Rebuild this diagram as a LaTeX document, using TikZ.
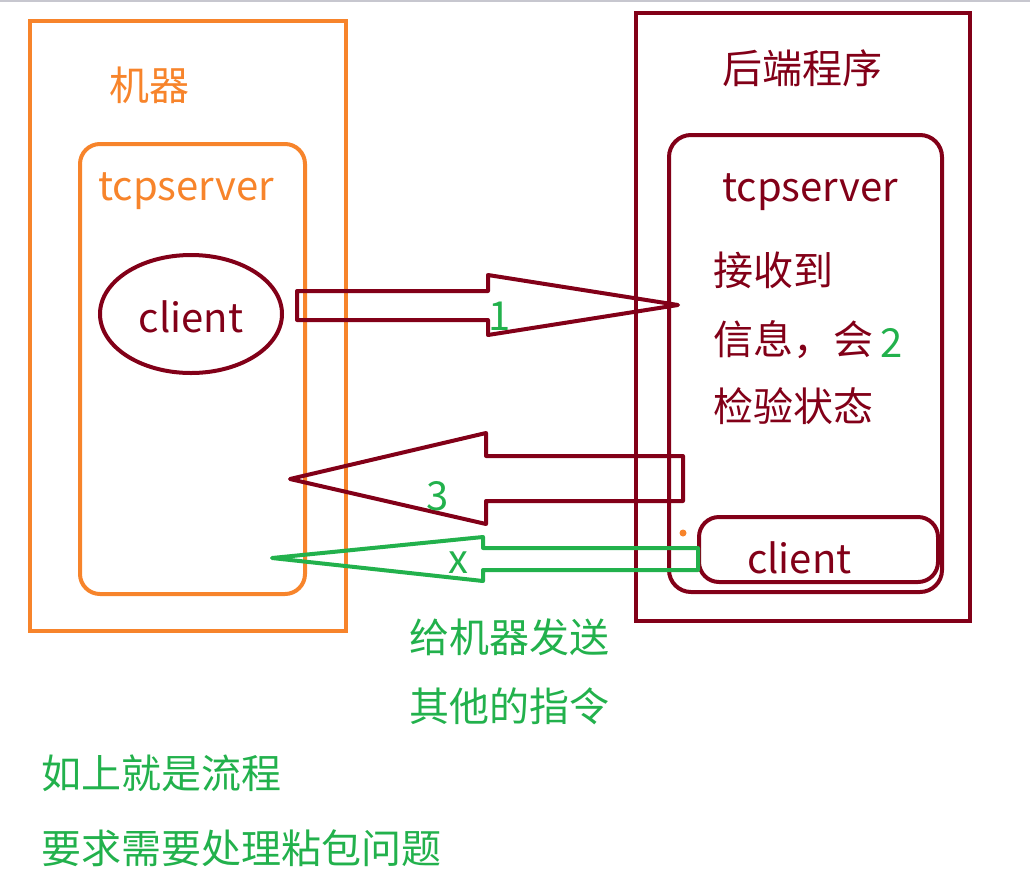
\documentclass[tikz,border=0pt]{standalone}
\usepackage{fontspec}
\usetikzlibrary{shapes.geometric}
\setmainfont{Noto Sans CJK SC}
\definecolor{machorange}{HTML}{F7842B}
\definecolor{backred}{HTML}{820018}
\definecolor{stepgreen}{HTML}{22B14C}
\begin{document}
\begin{tikzpicture}[x=1pt, y=-1pt,
  txt/.style={inner sep=0pt, font=\fontsize{40}{48}\selectfont},
  box/.style={draw, line width=4pt, inner sep=0pt},
  blockarrow/.style={draw, line width=4pt, line join=round}]
\useasboundingbox (0,0) rectangle (1030,895);
\draw[line width=2pt, black!20!blue!10!gray!40] (0,1) -- (1030,1);

% machine side
\node [box, machorange, minimum width=316, minimum height=610] (mach) at (188,326) {};
\node [box, machorange, rounded corners=20, minimum width=225, minimum height=450] (machsrv) at (192.5,369) {};
\node [txt, machorange, anchor=west] (machlbl) at (109,85) {机器};
\node [txt, machorange, anchor=base west] (machsrvlbl) at (98,200) {tcpserver};
\node [box, backred, ellipse, minimum width=182, minimum height=118] (cli) at (191,314) {};
\node [txt, backred, anchor=base] (clilbl) at (191,332) {client};

% backend side
\node [box, backred, minimum width=334, minimum height=608] (back) at (803,317) {};
\node [box, backred, rounded corners=22, minimum width=273, minimum height=457] (backsrv) at (805.5,363.5) {};
\node [txt, backred] (backlbl) at (802,68) {后端程序};
\node [txt, backred, anchor=base west] (backsrvlbl) at (722,201) {tcpserver};
\node [txt, backred, anchor=west] (chk1) at (713,270) {接收到};
\node [txt, backred, anchor=west] (chk2) at (713,340) {信息，会};
\node [txt, backred, anchor=west] (chk3) at (713,406) {检验状态};
\node [txt, stepgreen, anchor=west] (num2) at (880,343) {2};
\node [box, backred, rounded corners=20, minimum width=239, minimum height=65] (backcli) at (818.5,549.5) {};
\node [txt, backred, anchor=base west] (backclilbl) at (747,573) {client};
\fill [machorange] (683,533) circle (3.5);

% arrows
\draw [blockarrow, backred] (297,291) -- (488,291) -- (488,275) -- (678,305)
  -- (488,335) -- (488,320) -- (297,320) -- cycle;
\node [txt, stepgreen, anchor=base] (num1) at (500,330) {1};
\draw [blockarrow, backred] (683,456) -- (486,456) -- (486,433) -- (290,479)
  -- (486,524) -- (486,501) -- (683,501) -- cycle;
\node [txt, stepgreen, anchor=base] (num3) at (438,510) {3};
\draw [blockarrow, stepgreen] (698,548) -- (483,548) -- (483,537) -- (272,558)
  -- (483,581) -- (483,570) -- (698,570) -- cycle;
\node [txt, stepgreen, anchor=base] (numx) at (458,573) {x};

% notes
\node [txt, stepgreen, anchor=west] (note1) at (409,637) {给机器发送};
\node [txt, stepgreen, anchor=west] (note2) at (409,706) {其他的指令};
\node [txt, stepgreen, anchor=west] (note3) at (41,773) {如上就是流程};
\node [txt, stepgreen, anchor=west] (note4) at (41,848) {要求需要处理粘包问题};
\end{tikzpicture}
\end{document}
